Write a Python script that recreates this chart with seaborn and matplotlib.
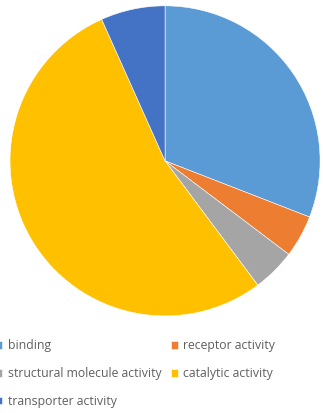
import matplotlib
matplotlib.use("Agg")
import matplotlib.pyplot as plt
import seaborn as sns

# Molecular function categories and their shares (%)
categories = ["binding", "receptor activity", "structural molecule activity",
              "catalytic activity", "transporter activity"]
shares = [30.9, 4.4, 4.5, 53.5, 6.7]
hex_colors = ["#5B9BD5", "#ED7D31", "#A5A5A5", "#FFC000", "#4472C4"]

sns.set_theme(style="white")
plt.rcParams["font.family"] = ["Open Sans", "DejaVu Sans"]
palette = sns.color_palette(hex_colors)

fig = plt.figure(figsize=(3.23, 4.13), dpi=100)
ax = fig.add_axes([0.031, 0.235, 0.960, 0.751])
wedges, _ = ax.pie(shares, colors=palette, startangle=90, counterclock=False,
                   wedgeprops=dict(edgecolor="white", linewidth=0.4))
ax.set_xlim(-1.0, 1.0)
ax.set_ylim(-1.0, 1.0)
ax.set_aspect("equal")

text_color = "#606060"
common = dict(frameon=False, fontsize=8.8, handlelength=0.55, handleheight=0.55,
              handletextpad=0.45, labelspacing=1.2, borderpad=0,
              borderaxespad=0, labelcolor=text_color)

left_idx = [0, 2, 4]
right_idx = [1, 3]
leg1 = fig.legend([wedges[i] for i in left_idx], [categories[i] for i in left_idx],
                  loc="upper left", bbox_to_anchor=(-0.014, 0.178), **common)
leg2 = fig.legend([wedges[i] for i in right_idx], [categories[i] for i in right_idx],
                  loc="upper left", bbox_to_anchor=(0.529, 0.178), **common)

fig.savefig("out.png", dpi=100, facecolor="white")
